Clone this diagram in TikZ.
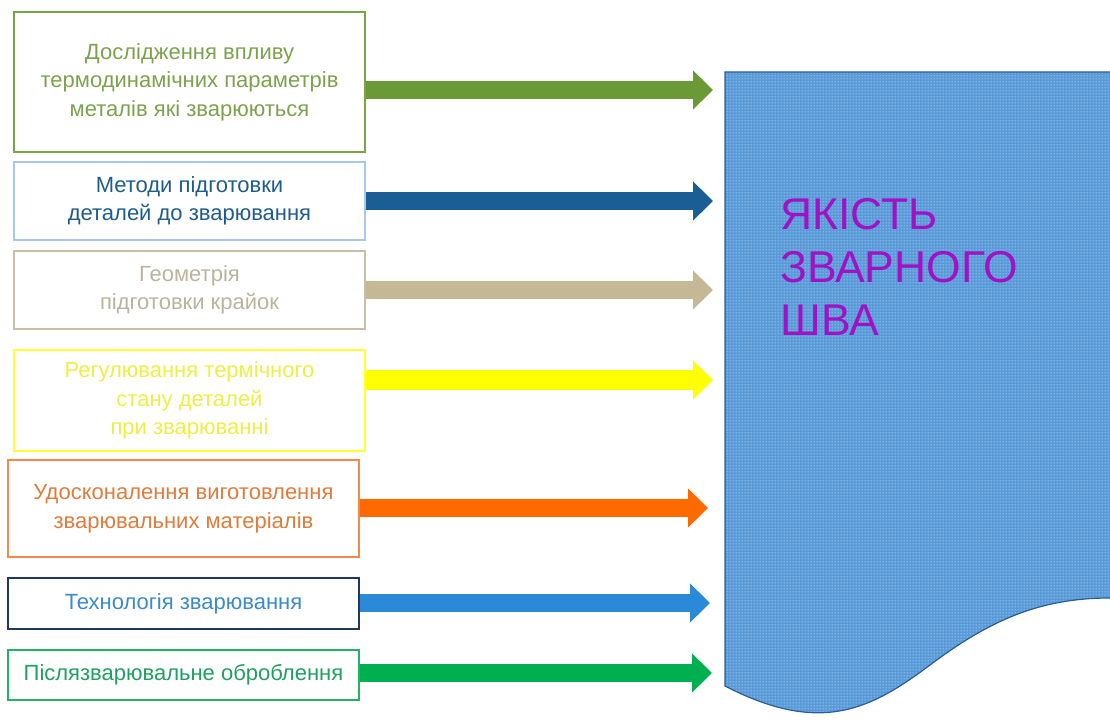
\documentclass[tikz,border=0pt]{standalone}
\usepackage{fontspec}
\setmainfont{Liberation Sans}
\usetikzlibrary{arrows.meta,patterns}
\definecolor{cA}{HTML}{7AA446}\definecolor{tA}{HTML}{7DA24E}\definecolor{aA}{HTML}{6A9A35}
\definecolor{cB}{HTML}{A9C8E8}\definecolor{tB}{HTML}{1F5C8E}\definecolor{aB}{HTML}{1B5E96}
\definecolor{cC}{HTML}{C8BFA5}\definecolor{tC}{HTML}{BCB39E}\definecolor{aC}{HTML}{C4B994}
\definecolor{cD}{HTML}{FFFF33}\definecolor{tD}{HTML}{EEEE44}\definecolor{aD}{HTML}{FFFF00}
\definecolor{cE}{HTML}{F28A4C}\definecolor{tE}{HTML}{E07B3C}\definecolor{aE}{HTML}{FF6A00}
\definecolor{cF}{HTML}{1F3A5E}\definecolor{tF}{HTML}{3A8BC8}\definecolor{aF}{HTML}{2A8AD8}
\definecolor{cG}{HTML}{22B463}\definecolor{tG}{HTML}{1FA060}\definecolor{aG}{HTML}{00B050}
\definecolor{docblue}{HTML}{5A9AD8}\definecolor{docdot}{HTML}{B8DCF8}\definecolor{docedge}{HTML}{2B5C95}
\definecolor{titlec}{HTML}{A012C4}
\pgfdeclarepatternformonly{bigdots}{\pgfqpoint{0pt}{0pt}}{\pgfqpoint{3pt}{3pt}}{\pgfqpoint{3pt}{3pt}}{\pgfpathcircle{\pgfqpoint{1.5pt}{1.5pt}}{0.8pt}\pgfusepath{fill}}
\tikzset{
  box/.style={draw, line width=2pt, minimum width=351pt, inner sep=0pt, align=center, font=\fontsize{22}{28.5}\selectfont},
  fatarrow/.style={line width=18pt, -{Triangle[length=20pt,width=38pt]}},
}
\begin{document}
\begin{tikzpicture}[x=1pt,y=-1pt]
\useasboundingbox (0,0) rectangle (1110,722);
% big document shape
\fill[docblue] (725,72) -- (1110,72) -- (1110,598)
  .. controls (1040,598) and (990,620) .. (930,665)
  .. controls (870,710) and (820,735) .. (725,686) -- cycle;
\fill[pattern=bigdots, pattern color=docdot] (725,72) -- (1110,72) -- (1110,598)
  .. controls (1040,598) and (990,620) .. (930,665)
  .. controls (870,710) and (820,735) .. (725,686) -- cycle;
\draw[docedge, line width=1.2pt] (1110,72) -- (725,72) -- (725,686)
  .. controls (820,735) and (870,710) .. (930,665)
  .. controls (990,620) and (1040,598) .. (1110,598);
\node[anchor=base west, inner sep=0pt, align=left, text=titlec, font=\fontsize{44.5}{53}\selectfont] (title) at (780,335) {ЯКІСТЬ\\ЗВАРНОГО\\ШВА};
% boxes
\node[box, draw=cA, text=tA, minimum height=140pt] (b1) at (189.5,82) {Дослідження впливу\\термодинамічних параметрів\\металів які зварюються};
\node[box, draw=cB, text=tB, minimum height=78pt] (b2) at (189.5,201) {Методи підготовки\\деталей до зварювання};
\node[box, draw=cC, text=tC, minimum height=78pt] (b3) at (189.5,290) {Геометрія\\підготовки крайок};
\node[box, draw=cD, text=tD, minimum height=101pt] (b4) at (189.5,400.5) {Регулювання термічного\\стану деталей\\при зварюванні};
\node[box, draw=cE, text=tE, minimum height=97pt] (b5) at (183.5,508.5) {Удосконалення виготовлення\\зварювальних матеріалів};
\node[box, draw=cF, text=tF, minimum height=51pt] (b6) at (183.5,603.5) {Технологія зварювання};
\node[box, draw=cG, text=tG, minimum height=50pt] (b7) at (183.5,675) {Післязварювальне оброблення};
% arrow targets
\coordinate (t1) at (713,90);
\coordinate (t2) at (713,201);
\coordinate (t3) at (713,290);
\coordinate (t4) at (713,380);
\coordinate (t5) at (708,508);
\coordinate (t6) at (710,603);
\coordinate (t7) at (712,673);
\draw[fatarrow, aA] (b1.east |- t1) -- (t1);
\draw[fatarrow, aB] (b2.east |- t2) -- (t2);
\draw[fatarrow, aC] (b3.east |- t3) -- (t3);
\draw[fatarrow, aD, line width=20pt] (b4.east |- t4) -- (t4);
\draw[fatarrow, aE] (b5.east |- t5) -- (t5);
\draw[fatarrow, aF] (b6.east |- t6) -- (t6);
\draw[fatarrow, aG] (b7.east |- t7) -- (t7);
\end{tikzpicture}
\end{document}
